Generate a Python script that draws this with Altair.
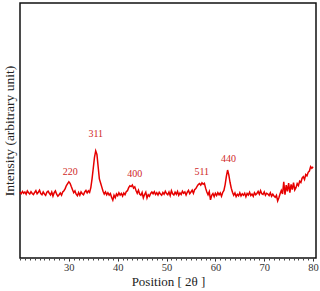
import altair as alt
import pandas as pd

# Intensity sampled every 0.25 degree 2-theta from 20 to 80
intensity = [
    25.8, 25.2, 26.1, 25.4,
    25.9, 25.0, 26.3, 25.6,
    25.1, 26.0, 25.3, 24.9,
    25.7, 26.4, 25.2, 25.8,
    26.6, 25.3, 24.8, 25.9,
    25.1, 24.6, 25.8, 26.2,
    25.4, 24.7, 25.9, 24.3,
    25.6, 26.3, 25.0, 24.2,
    24.8, 25.5, 24.6, 25.9,
    26.4, 27.2, 28.4, 29.2,
    29.9, 29.3, 28.0, 26.8,
    25.6, 26.3, 25.0, 24.4,
    25.7, 24.6, 25.9, 25.2,
    24.8, 25.9, 26.5, 25.5,
    26.3, 25.7, 27.6, 31.0,
    35.2, 39.5, 42.0, 40.6,
    35.8, 31.0, 29.4, 27.8,
    26.2, 25.1, 25.9, 24.8,
    25.6, 24.7, 25.3, 23.8,
    22.7, 24.6, 23.6, 25.1,
    24.4, 25.6, 24.7, 25.3,
    24.3, 25.5, 24.8, 26.0,
    26.4, 27.6, 28.3, 28.0,
    28.6, 27.4, 27.9, 26.5,
    25.4, 26.6, 25.1, 24.6,
    25.7, 23.6, 24.9, 25.8,
    23.5, 24.8, 24.2, 25.3,
    25.9, 25.2, 26.0, 24.9,
    25.6, 24.7, 25.8, 25.1,
    24.6, 25.7, 25.0, 26.2,
    25.3, 24.8, 25.9, 24.5,
    26.4, 25.2, 24.7, 25.8,
    25.0, 26.1, 24.6, 25.5,
    24.9, 26.2, 25.4, 25.9,
    24.7, 25.8, 26.5, 25.2,
    25.9, 26.6, 25.4, 26.8,
    27.2, 28.1, 28.8, 29.2,
    28.6, 29.5, 28.9, 29.3,
    27.4, 25.9, 24.8, 26.0,
    22.8, 24.6, 25.3, 24.1,
    25.4, 24.5, 25.6, 24.8,
    25.5, 24.2, 25.7, 26.5,
    28.8, 32.0, 34.5, 32.6,
    29.7, 27.4, 25.8, 24.6,
    25.5, 24.1, 25.0, 24.4,
    25.6, 24.3, 25.2, 24.6,
    25.4, 24.0, 25.3, 24.7,
    25.8, 24.5, 25.1, 24.2,
    25.6, 24.8, 25.3, 26.1,
    25.0, 26.4, 25.2, 24.9,
    25.9, 24.6, 25.4, 25.1,
    24.5, 25.6, 24.2, 25.0,
    24.3, 23.8, 24.6, 22.4,
    23.6, 25.2, 26.5, 25.1,
    29.9, 24.8, 28.6, 26.1,
    29.4, 25.6, 28.9, 26.8,
    29.6, 26.7, 27.6, 29.2,
    28.4, 30.1, 29.6, 31.3,
    31.9, 30.8, 32.7, 32.2,
    33.6, 34.1, 35.8, 35.2,
    35.8,
]
two_theta = [20 + 0.25 * i for i in range(len(intensity))]

peak_labels = ["220", "311", "400", "511", "440"]
peak_x = [30.3, 35.5, 43.5, 57.2, 62.7]
peak_y = [33.8, 48.7, 33.0, 33.7, 39.0]

major_ticks = [30, 40, 50, 60, 70, 80]
minor_ticks = list(range(20, 81))

df = pd.DataFrame({"x": two_theta, "y": intensity})
lab = pd.DataFrame({"x": peak_x, "y": peak_y, "t": peak_labels})

xscale = alt.Scale(domain=[20, 80.6], nice=False, zero=False)
yscale = alt.Scale(domain=[0, 100], nice=False)

yaxis = alt.Axis(title="Intensity (arbitrary unit)", labels=False, ticks=False,
                 domain=False, grid=False, titleFont="Liberation Serif",
                 titleFontSize=13.5, titleFontWeight="normal", titleColor="#222",
                 titlePadding=4, orient="left")

ytitle = "Intensity (arbitrary unit)"

line = alt.Chart(df).mark_line(color="#e60000", strokeWidth=1.5).encode(
    x=alt.X("x:Q", scale=xscale,
            axis=alt.Axis(title="Position [ 2θ ]", values=major_ticks, format="d",
                          orient="bottom",
                          tickSize=3, tickColor="#222", domain=False, grid=False,
                          labelFont="Liberation Serif", labelFontSize=10.5, labelColor="#333",
                          labelPadding=1, titleFont="Liberation Serif", titleFontSize=13,
                          titleFontWeight="normal", titleColor="#222", titlePadding=3,
                          labelOverlap=False, labelFlush=False)),
    y=alt.Y("y:Q", scale=yscale, axis=yaxis, title=ytitle),
)

minor = alt.Chart(df).mark_line(opacity=0).encode(
    x=alt.X("x:Q", scale=xscale,
            axis=alt.Axis(title=None, values=minor_ticks, labels=False, orient="bottom",
                          tickSize=2, tickColor="#444", domain=False, grid=False)),
    y=alt.Y("y:Q", scale=yscale, axis=yaxis, title=ytitle),
)

text = alt.Chart(lab).mark_text(color="#d02828", font="Liberation Serif", fontSize=10,
                                baseline="middle", align="center").encode(
    x=alt.X("x:Q", scale=xscale, axis=None),
    y=alt.Y("y:Q", scale=yscale, axis=yaxis, title=ytitle),
    text="t:N",
)

chart = alt.layer(line, minor, text).resolve_axis(x="independent").properties(
    width=296, height=255,
    autosize=alt.AutoSizeParams(type="none"),
    padding={"left": 20, "top": 3, "right": 4, "bottom": 33},
).configure_view(stroke="#111", strokeWidth=1.5)

chart.save("out.html", embed_options={"renderer": "svg", "actions": False})
